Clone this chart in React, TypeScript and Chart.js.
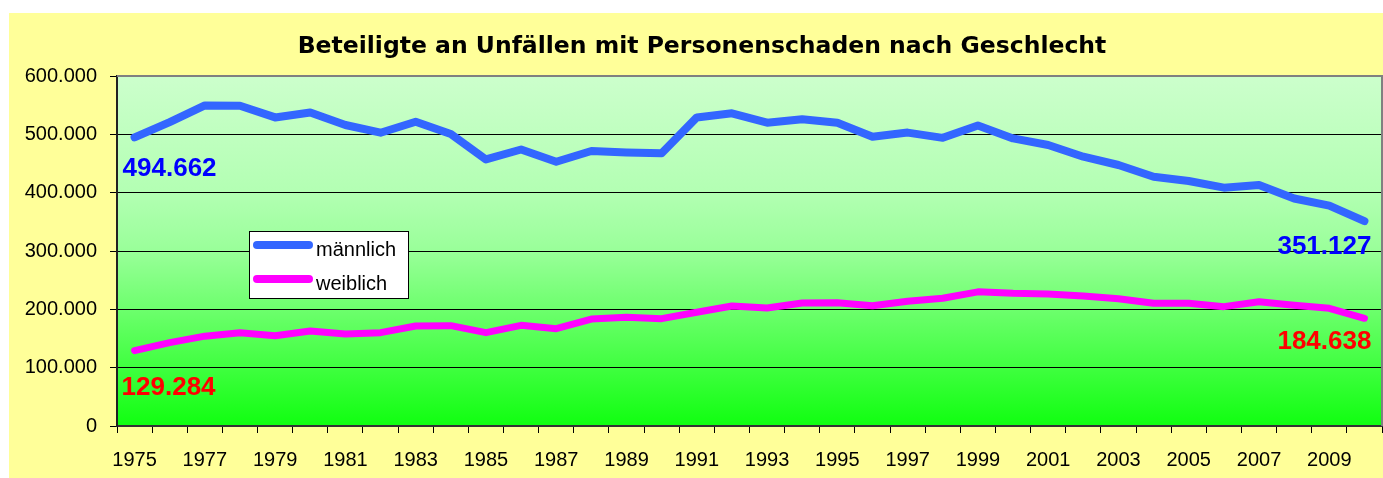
import React, { useEffect, useRef } from 'react';
import { Chart, registerables } from 'chart.js';

Chart.register(...registerables);

const TITLE = 'Beteiligte an Unfällen mit Personenschaden nach Geschlecht';

const years = [
  '1975', '1976', '1977', '1978', '1979', '1980', '1981', '1982', '1983', '1984',
  '1985', '1986', '1987', '1988', '1989', '1990', '1991', '1992', '1993', '1994',
  '1995', '1996', '1997', '1998', '1999', '2000', '2001', '2002', '2003', '2004',
  '2005', '2006', '2007', '2008', '2009', '2010',
];

const maleLabel = 'männlich';
const femaleLabel = 'weiblich';

const male = [
  494662, 521000, 549500, 549000, 529000, 537500, 516000, 502800, 521500, 500500,
  457000, 474000, 453000, 471500, 469000, 467500, 529000, 536000, 520000, 526000,
  520000, 496000, 503000, 494000, 515000, 493000, 481700, 461700, 447400, 427400,
  420000, 408600, 413000, 390000, 377700, 351127,
];

const female = [
  129284, 143000, 154000, 160000, 154800, 162900, 157700, 160000, 171400, 172000,
  160000, 172600, 166900, 183400, 186300, 184000, 195000, 205700, 202300, 210900,
  211400, 206300, 214000, 218900, 230000, 227400, 226300, 222900, 218300, 210300,
  210300, 204600, 213000, 206900, 201700, 184638,
];

const yMin = 0;
const yMax = 600000;
const yStep = 100000;

const W = 1374;
const H = 465;
const SANS = "'Liberation Sans', Arial, sans-serif";
const TITLE_FONT = "bold 23.5px 'DejaVu Sans', sans-serif";

const fmt = (v: number) => String(Math.round(v)).replace(/\B(?=(\d{3})+(?!\d))/g, '.');

// end-value annotations: dataset index, which end, colour, alignment and offset from the point
const endLabels = [
  { ds: 0, end: 'first', color: '#0000FF', align: 'left', dx: -12, dy: 31 },
  { ds: 0, end: 'last', color: '#0000FF', align: 'right', dx: 7, dy: 26 },
  { ds: 1, end: 'first', color: '#FF0000', align: 'left', dx: -13, dy: 37 },
  { ds: 1, end: 'last', color: '#FF0000', align: 'right', dx: 7, dy: 24 },
];

const decor = {
  id: 'decor',
  beforeDraw(chart: any) {
    const { ctx, chartArea: a } = chart;
    ctx.save();
    ctx.fillStyle = '#FFFF99';
    ctx.fillRect(0, 0, chart.width, chart.height);
    const g = ctx.createLinearGradient(0, a.top, 0, a.bottom);
    g.addColorStop(0, '#CCFFCC');
    g.addColorStop(0.33, '#B3FFB3');
    g.addColorStop(0.5, '#99FF99');
    g.addColorStop(0.67, '#6CFF6C');
    g.addColorStop(0.83, '#40FF40');
    g.addColorStop(1, '#10FF10');
    ctx.fillStyle = g;
    ctx.fillRect(a.left, a.top, a.right - a.left, a.bottom - a.top);
    ctx.restore();
  },
  afterDraw(chart: any) {
    const { ctx, chartArea: a } = chart;
    ctx.save();
    // plot frame (top / right)
    ctx.strokeStyle = '#808080';
    ctx.lineWidth = 2;
    ctx.beginPath();
    ctx.moveTo(a.left, a.top);
    ctx.lineTo(a.right, a.top);
    ctx.lineTo(a.right, a.bottom);
    ctx.stroke();

    // title
    ctx.font = TITLE_FONT;
    ctx.fillStyle = '#000';
    ctx.textAlign = 'center';
    ctx.textBaseline = 'alphabetic';
    ctx.fillText(TITLE, 693, 40);

    // end labels
    ctx.font = `bold 26px ${SANS}`;
    ctx.textBaseline = 'middle';
    endLabels.forEach((l) => {
      const meta = chart.getDatasetMeta(l.ds);
      const data = chart.data.datasets[l.ds].data as number[];
      const i = l.end === 'first' ? 0 : data.length - 1;
      const pt = meta.data[i];
      ctx.fillStyle = l.color;
      ctx.textAlign = l.align;
      ctx.fillText(fmt(data[i]), pt.x + l.dx, pt.y + l.dy);
    });

    // legend
    const lx = 240, ly = 218, lw = 160, lh = 68;
    ctx.fillStyle = '#FFFFFF';
    ctx.fillRect(lx, ly, lw, lh);
    ctx.strokeStyle = '#000';
    ctx.lineWidth = 1;
    ctx.strokeRect(lx + 0.5, ly + 0.5, lw - 1, lh - 1);
    const rows = [232, 266];
    chart.data.datasets.forEach((ds: any, k: number) => {
      const y = rows[k];
      ctx.strokeStyle = ds.borderColor;
      ctx.lineWidth = 8;
      ctx.lineCap = 'round';
      ctx.beginPath();
      ctx.moveTo(248, y);
      ctx.lineTo(300, y);
      ctx.stroke();
      ctx.fillStyle = '#000';
      ctx.font = `20px ${SANS}`;
      ctx.textAlign = 'left';
      ctx.textBaseline = 'alphabetic';
      ctx.fillText(ds.label, 307, y + 11);
    });
    ctx.restore();
  },
};

export default function App() {
  const ref = useRef<HTMLCanvasElement>(null);

  useEffect(() => {
    if (!ref.current) return;
    const chart = new Chart(ref.current, {
      type: 'line',
      data: {
        labels: years,
        datasets: [
          {
            label: maleLabel,
            data: male,
            borderColor: '#3366FF',
            borderWidth: 8,
            pointRadius: 0,
            tension: 0,
            borderCapStyle: 'round',
            borderJoinStyle: 'round',
          },
          {
            label: femaleLabel,
            data: female,
            borderColor: '#FF00FF',
            borderWidth: 7,
            pointRadius: 0,
            tension: 0,
            borderCapStyle: 'round',
            borderJoinStyle: 'round',
          },
        ],
      },
      options: {
        responsive: false,
        animation: false,
        devicePixelRatio: 1,
        layout: { padding: { top: 63, right: 1, left: 0, bottom: 0 } },
        plugins: {
          legend: { display: false },
          title: { display: false },
          tooltip: { enabled: false },
        },
        scales: {
          x: {
            type: 'category',
            offset: true,
            afterFit: (s: any) => {
              s.height = 52;
            },
            grid: {
              offset: true,
              drawOnChartArea: false,
              drawTicks: true,
              tickLength: 7,
              color: '#000',
            },
            border: { display: true, color: '#333', width: 2 },
            ticks: {
              autoSkip: false,
              maxRotation: 0,
              minRotation: 0,
              padding: 15,
              color: '#000',
              font: { family: SANS, size: 20 },
              callback: (_v: any, i: number) => (i % 2 === 0 ? years[i] : ''),
            },
          },
          y: {
            min: yMin,
            max: yMax,
            afterFit: (s: any) => {
              s.width = 108;
            },
            grid: {
              color: '#000',
              lineWidth: 1,
              tickLength: 7,
              drawTicks: true,
            },
            border: { display: true, color: '#222', width: 2 },
            ticks: {
              stepSize: yStep,
              padding: 13,
              color: '#000',
              font: { family: SANS, size: 20 },
              callback: (v: any) => fmt(Number(v)),
            },
          },
        },
      },
      plugins: [decor],
    });
    return () => chart.destroy();
  }, []);

  return (
    <div style={{ position: 'fixed', left: 9, top: 13, width: W, height: H }}>
      <canvas ref={ref} width={W} height={H} style={{ display: 'block', width: W, height: H }} />
    </div>
  );
}
